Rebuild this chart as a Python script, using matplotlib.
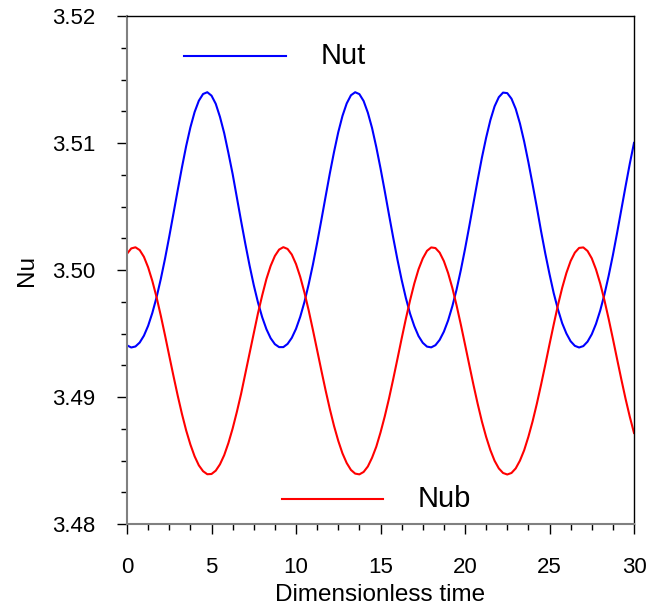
import numpy as np
import matplotlib
matplotlib.use('Agg')
import matplotlib.pyplot as plt
from matplotlib.ticker import MultipleLocator, FormatStrFormatter

# time samples (dimensionless), step 0.25
time = np.arange(0, 30.001, 0.25)

# values
nut = [3.49407, 3.49390, 3.49398, 3.49429, 3.49483, 3.49561, 3.49663, 3.49786,
       3.49930, 3.50090, 3.50264, 3.50446, 3.50629, 3.50808, 3.50976, 3.51123,
       3.51244, 3.51333, 3.51386, 3.51400, 3.51373, 3.51309, 3.51206, 3.51078,
       3.50921, 3.50756, 3.50571, 3.50386, 3.50207, 3.50037, 3.49881, 3.49744,
       3.49628, 3.49534, 3.49463, 3.49416, 3.49393, 3.49393, 3.49418, 3.49466,
       3.49537, 3.49632, 3.49749, 3.49888, 3.50043, 3.50214, 3.50394, 3.50578,
       3.50760, 3.50930, 3.51085, 3.51214, 3.51312, 3.51376, 3.51400, 3.51385,
       3.51331, 3.51239, 3.51118, 3.50968, 3.50801, 3.50622, 3.50437, 3.50256,
       3.50083, 3.49923, 3.49780, 3.49656, 3.49558, 3.49480, 3.49427, 3.49397,
       3.49391, 3.49408, 3.49450, 3.49515, 3.49603, 3.49715, 3.49846, 3.49998,
       3.50165, 3.50343, 3.50527, 3.50710, 3.50885, 3.51042, 3.51180, 3.51289,
       3.51361, 3.51397, 3.51393, 3.51349, 3.51269, 3.51154, 3.51012, 3.50849,
       3.50674, 3.50494, 3.50306, 3.50130, 3.49968, 3.49817, 3.49690, 3.49581,
       3.49500, 3.49439, 3.49403, 3.49390, 3.49401, 3.49436, 3.49494, 3.49576,
       3.49681, 3.49808, 3.49955, 3.50117, 3.50293, 3.50476, 3.50659, 3.50837,
       3.51001]

nub = [3.50128, 3.50170, 3.50179, 3.50157, 3.50104, 3.50021, 3.49913, 3.49785,
       3.49640, 3.49485, 3.49324, 3.49165, 3.49011, 3.48867, 3.48737, 3.48626,
       3.48533, 3.48462, 3.48416, 3.48392, 3.48394, 3.48420, 3.48470, 3.48542,
       3.48638, 3.48752, 3.48883, 3.49025, 3.49184, 3.49343, 3.49502, 3.49660,
       3.49801, 3.49930, 3.50033, 3.50111, 3.50161, 3.50180, 3.50166, 3.50122,
       3.50047, 3.49946, 3.49822, 3.49682, 3.49528, 3.49369, 3.49209, 3.49053,
       3.48906, 3.48772, 3.48655, 3.48556, 3.48480, 3.48426, 3.48397, 3.48391,
       3.48410, 3.48453, 3.48522, 3.48609, 3.48721, 3.48847, 3.48987, 3.49140,
       3.49299, 3.49460, 3.49616, 3.49762, 3.49894, 3.50006, 3.50091, 3.50151,
       3.50178, 3.50173, 3.50137, 3.50070, 3.49976, 3.49859, 3.49722, 3.49572,
       3.49414, 3.49254, 3.49096, 3.48946, 3.48807, 3.48686, 3.48582, 3.48498,
       3.48438, 3.48402, 3.48390, 3.48402, 3.48438, 3.48499, 3.48581, 3.48687,
       3.48809, 3.48947, 3.49097, 3.49254, 3.49415, 3.49572, 3.49724, 3.49860,
       3.49977, 3.50071, 3.50137, 3.50174, 3.50178, 3.50150, 3.50092, 3.50005,
       3.49894, 3.49762, 3.49615, 3.49459, 3.49298, 3.49139, 3.48986, 3.48845,
       3.48717]

plt.rcParams['font.family'] = ['Liberation Sans', 'DejaVu Sans']

fig = plt.figure(figsize=(6.65, 6.07), dpi=100)
ax = fig.add_axes([0.191, 0.1367, 0.7624, 0.8369])

ax.plot(time, nut, color='#0000ff', lw=1.5)
ax.plot(time, nub, color='#ff0000', lw=1.5)

ax.set_xlim(0, 30)
ax.set_ylim(3.48, 3.52)
ax.xaxis.set_major_locator(MultipleLocator(5))
ax.xaxis.set_minor_locator(MultipleLocator(1.25))
ax.yaxis.set_major_locator(MultipleLocator(0.01))
ax.yaxis.set_minor_locator(MultipleLocator(0.0025))
ax.yaxis.set_major_formatter(FormatStrFormatter('%.2f'))

ax.tick_params(which='major', direction='out', length=7, width=1,
               labelsize=16, color='black')
ax.tick_params(which='minor', direction='out', length=4, width=1, color='black')
ax.tick_params(axis='x', which='major', pad=17)
ax.tick_params(axis='y', which='major', pad=16)

for side in ['left', 'bottom']:
    ax.spines[side].set_color('#808080')
    ax.spines[side].set_linewidth(1.5)
for side in ['top', 'right']:
    ax.spines[side].set_color('black')
    ax.spines[side].set_linewidth(1)

ax.set_xlabel('Dimensionless time', fontsize=17.5, labelpad=4)
ax.set_ylabel('Nu', fontsize=17.5, labelpad=10)

# hand-placed legend entries
ax.plot([0.1124, 0.3136], [0.9213, 0.9213], color='#0000ff', lw=1.5,
        transform=ax.transAxes)
ax.text(0.3826, 0.9213, 'Nut', fontsize=21, va='center', ha='left',
        transform=ax.transAxes)
ax.plot([0.3057, 0.5049], [0.0492, 0.0492], color='#ff0000', lw=1.5,
        transform=ax.transAxes)
ax.text(0.574, 0.0492, 'Nub', fontsize=21, va='center', ha='left',
        transform=ax.transAxes)

fig.savefig('out.png', dpi=100)
